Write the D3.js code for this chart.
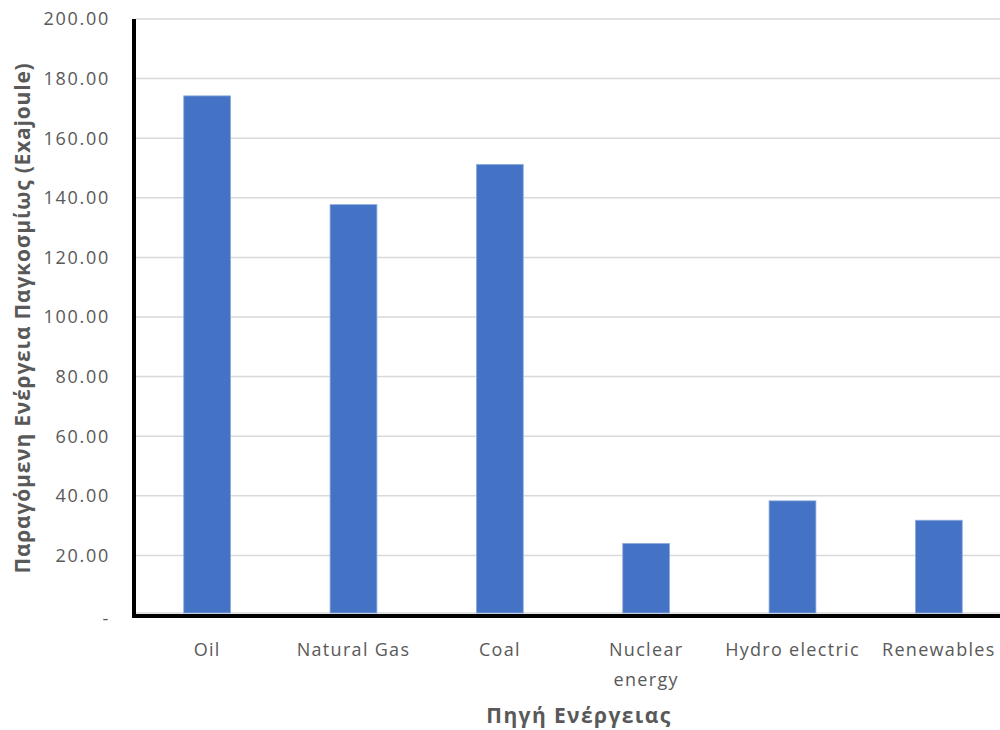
<!DOCTYPE html>
<html>
<head>
<meta charset="utf-8">
<script src="https://cdn.jsdelivr.net/npm/d3@7"></script>
<style>
  body { margin: 0; background: #fff; }
  svg { display: block; font-family: "Open Sans", "DejaVu Sans", sans-serif; }
</style>
</head>
<body>
<svg id="chart" width="1000" height="730"></svg>
<script>
var categories = ['Oil', 'Natural Gas', 'Coal', 'Nuclear energy', 'Hydro electric', 'Renewables'];
var values = [174.2, 137.7, 151.2, 24.0, 38.3, 31.8];
var yTicks = [0, 20, 40, 60, 80, 100, 120, 140, 160, 180, 200];
var xTitle = 'Πηγή Ενέργειας';
var yTitle = 'Παραγόμενη Ενέργεια Παγκοσμίως (Exajoule)';

var svg = d3.select('#chart');
var text_color = '#595959';

var x = d3.scaleBand()
    .domain(categories)
    .range([134, 1012])
    .paddingInner(0.68)
    .paddingOuter(0.34);

var y = d3.scaleLinear()
    .domain([0, 200])
    .range([615, 19]);

var fmt = function(v) {
    return v === 0 ? '-' : d3.format('.2f')(v);
};

// gridlines
svg.append('g')
    .selectAll('line')
    .data(yTicks)
    .enter()
    .append('line')
    .attr('x1', 136)
    .attr('x2', 1000)
    .attr('y1', function(d) { return y(d) - (d === 0 ? 2 : 0); })
    .attr('y2', function(d) { return y(d) - (d === 0 ? 2 : 0); })
    .attr('stroke', '#d9d9d9')
    .attr('stroke-width', 1.5);

// y tick labels
svg.append('g')
    .selectAll('text')
    .data(yTicks)
    .enter()
    .append('text')
    .attr('x', 110)
    .attr('y', function(d) { return y(d) + (d === 0 ? 4 : 0); })
    .attr('dy', '0.35em')
    .attr('text-anchor', 'end')
    .attr('font-size', 18)
    .attr('letter-spacing', 1.7)
    .attr('fill', text_color)
    .text(fmt);

// bars
svg.append('g')
    .selectAll('rect')
    .data(values)
    .enter()
    .append('rect')
    .attr('x', function(d, i) { return x(categories[i]); })
    .attr('y', function(d) { return y(d); })
    .attr('width', x.bandwidth())
    .attr('height', function(d) { return y(0) - 2 - y(d); })
    .attr('fill', '#4472c4')
    .attr('stroke', '#8eaadb')
    .attr('stroke-width', 0.8);

// axis lines
svg.append('line')
    .attr('x1', 134).attr('x2', 134)
    .attr('y1', 19).attr('y2', 618)
    .attr('stroke', '#000').attr('stroke-width', 4);
svg.append('line')
    .attr('x1', 132).attr('x2', 1000)
    .attr('y1', 616).attr('y2', 616)
    .attr('stroke', '#000').attr('stroke-width', 4);

// category labels
var cat_labels = svg.append('g')
    .selectAll('text')
    .data(categories)
    .enter()
    .append('text')
    .attr('text-anchor', 'middle')
    .attr('font-size', 18)
    .attr('letter-spacing', 1.3)
    .attr('fill', text_color)
    .attr('transform', function(d) {
        return 'translate(' + (x(d) + x.bandwidth() / 2) + ',650)';
    });

cat_labels.each(function(d) {
    var lines = d === 'Nuclear energy' ? ['Nuclear', 'energy'] : [d];
    var t = d3.select(this);
    lines.forEach(function(l, k) {
        t.append('tspan')
            .attr('x', 0)
            .attr('y', k * 30)
            .attr('dy', '0.35em')
            .text(l);
    });
});

// axis titles
svg.append('text')
    .attr('x', 579)
    .attr('y', 723)
    .attr('text-anchor', 'middle')
    .attr('font-size', 21)
    .attr('letter-spacing', 1.4)
    .attr('font-weight', 'bold')
    .attr('fill', text_color)
    .text(xTitle);

svg.append('text')
    .attr('transform', 'translate(23,318) rotate(-90)')
    .attr('dy', '0.35em')
    .attr('text-anchor', 'middle')
    .attr('font-size', 21)
    .attr('letter-spacing', 0.8)
    .attr('font-weight', 'bold')
    .attr('fill', text_color)
    .text(yTitle);
</script>
</body>
</html>
